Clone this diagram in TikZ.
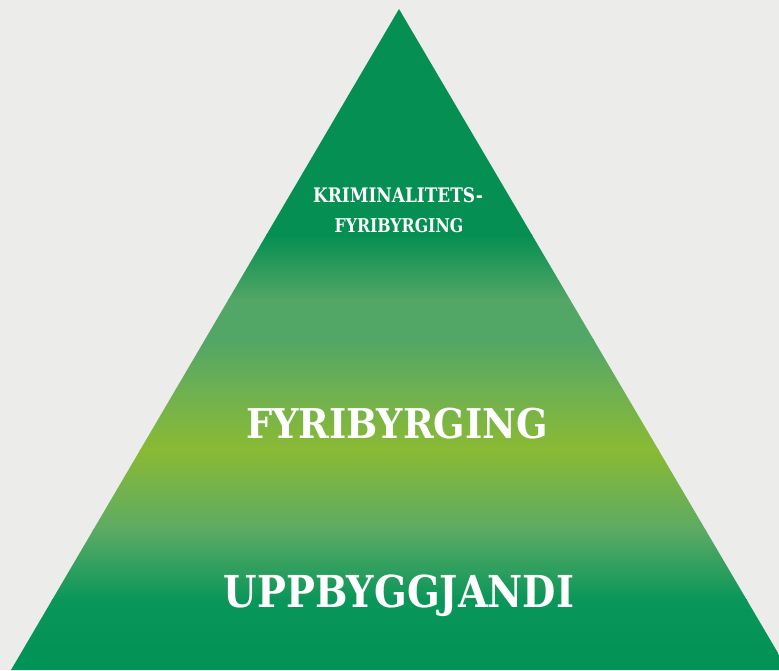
\documentclass[tikz,border=0pt]{standalone}
\usepackage{fontspec}
\setmainfont{DejaVu Serif Condensed}
\definecolor{bgc}{RGB}{236,236,235}
\definecolor{ga}{RGB}{5,143,82}
\definecolor{gb}{RGB}{82,166,102}
\definecolor{gm}{RGB}{110,176,82}
\definecolor{gc}{RGB}{138,186,52}
\definecolor{gd}{RGB}{92,170,100}
\definecolor{ge}{RGB}{10,150,90}
\definecolor{gf}{RGB}{0,146,86}
\tikzset{
  lbl/.style={text=white, anchor=base, inner sep=0pt, font=\bfseries},
  band/.style 2 args={top color=#1, bottom color=#2, draw=none}
}
\begin{document}
\begin{tikzpicture}[x=1pt,y=1pt]
\useasboundingbox (0,0) rectangle (779,670);
\fill[bgc] (0,0) rectangle (779,670);
\begin{scope}
\clip (399,661) -- (11,0) -- (788,0) -- cycle;
\fill[ga] (0,434) rectangle (779,670);
\shade[band={ga}{gb}] (0,370) rectangle (779,435.5);
\shade[band={gb}{gb}] (0,330) rectangle (779,370.5);
\shade[band={gb}{gm}] (0,280) rectangle (779,330.5);
\shade[band={gm}{gc}] (0,220) rectangle (779,280.5);
\shade[band={gc}{gd}] (0,140) rectangle (779,220.5);
\shade[band={gd}{ge}] (0,70) rectangle (779,140.5);
\shade[band={ge}{gf}] (0,0) rectangle (779,70.5);
\end{scope}
\node[lbl, font=\bfseries\fontsize{20}{24}\selectfont] (k1) at (398,467) {\scalebox{0.94}[1]{KRIMINALITETS-}};
\node[lbl, font=\bfseries\fontsize{19}{24}\selectfont] (k2) at (399,437) {\scalebox{0.92}[1]{FYRIBYRGING}};
\node[lbl, font=\bfseries\fontsize{41}{48}\selectfont] (f) at (397,232) {FYRIBYRGING};
\node[lbl, font=\bfseries\fontsize{44}{52}\selectfont] (u) at (399,63) {\scalebox{0.97}[1]{UPPBYGGJANDI}};
\end{tikzpicture}
\end{document}
